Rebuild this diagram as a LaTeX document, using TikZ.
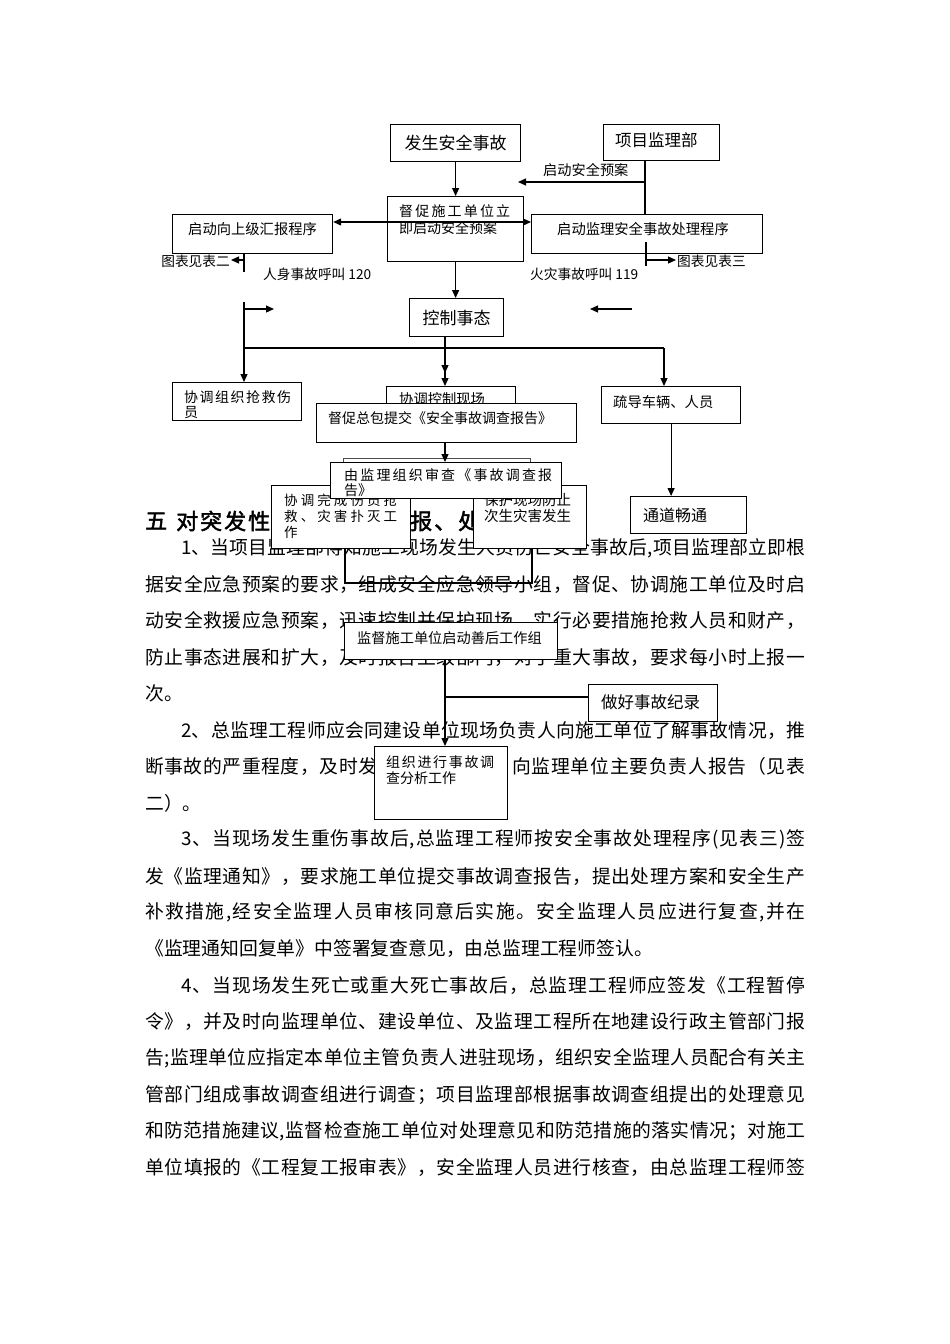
\documentclass[tikz,border=0pt]{standalone}
\usepackage{fontspec}
\setmainfont{Noto Sans CJK SC}
\newfontfamily\headfont{Noto Sans CJK SC}[FakeBold=2]
\usetikzlibrary{arrows.meta}
\def\spr#1{\ifx#1\relax\else#1\hfil\expandafter\spr\fi}
\newcommand\spreadto[2]{\hbox to #1{\spr#2\relax\unskip}}
\newcommand\fsz[1]{\fontsize{#1}{#1}\selectfont}
\tikzset{
  bx/.style={draw=black, line width=1.2pt, fill=white, inner sep=0pt, anchor=north west},
  ln/.style={line width=1.2pt},
  arr/.style={line width=1.2pt, -{Triangle[length=8pt,width=7pt]}},
  dbl/.style={line width=1.2pt, {Triangle[length=8pt,width=7pt]}-{Triangle[length=8pt,width=7pt]}},
  tx/.style={anchor=west, inner sep=0pt},
  body/.style={tx, font=\fsz{18.8}},
}
\newcommand\bx[5]{\node[bx, minimum width={#4-#2}, minimum height={#5-#3}] (#1) at (#2,#3) {};}
\begin{document}
\begin{tikzpicture}[x=1pt,y=-1pt]
\fill[white] (0,0) rectangle (950,1344);
\useasboundingbox (0,0) rectangle (950,1344);

% ---------- body text ----------
\node[tx, font=\headfont\fsz{22}] (hd1) at (145,521) {五};
\node[tx, font=\headfont\fsz{22}] (hd2) at (176,521) {\spreadto{94pt}{对突发性}};
\node[tx, font=\headfont\fsz{22}] (hd3) at (410,521) {\spreadto{70pt}{报、处}};
\node[body] (t0) at (181,548) {\spreadto{624pt}{1、当项目监理部得知施工现场发生人员伤亡安全事故后,项目监理部立即根}};
\node[body] (t1) at (145,584.5) {\spreadto{660pt}{据安全应急预案的要求，组成安全应急领导小组，督促、协调施工单位及时启}};
\node[body] (t2) at (145,620.9) {\spreadto{660pt}{动安全救援应急预案，迅速控制并保护现场，实行必要措施抢救人员和财产，}};
\node[body] (t3) at (145,657.4) {\spreadto{660pt}{防止事态进展和扩大，及时报告上级部门，对于重大事故，要求每小时上报一}};
\node[body] (t4) at (145,693.8) {次。};
\node[body] (t5) at (181,730.3) {\spreadto{624pt}{2、总监理工程师应会同建设单位现场负责人向施工单位了解事故情况，推}};
\node[body] (t6a) at (145,766.7) {\spreadto{232pt}{断事故的严重程度，及时发}};
\node[body] (t6b) at (512,766.7) {\spreadto{293pt}{向监理单位主要负责人报告（见表}};
\node[body] (t7) at (145,803.2) {二）。};
\node[body] (t8) at (181,839.6) {\spreadto{624pt}{3、当现场发生重伤事故后,总监理工程师按安全事故处理程序(见表三)签}};
\node[body] (t9) at (145,876.1) {\spreadto{660pt}{发《监理通知》，要求施工单位提交事故调查报告，提出处理方案和安全生产}};
\node[body] (t10) at (145,912.5) {\spreadto{660pt}{补救措施,经安全监理人员审核同意后实施。安全监理人员应进行复查,并在}};
\node[body] (t11) at (145,949) {《监理通知回复单》中签署复查意见，由总监理工程师签认。};
\node[body] (t12) at (181,985.4) {\spreadto{624pt}{4、当现场发生死亡或重大死亡事故后，总监理工程师应签发《工程暂停}};
\node[body] (t13) at (145,1021.9) {\spreadto{660pt}{令》，并及时向监理单位、建设单位、及监理工程所在地建设行政主管部门报}};
\node[body] (t14) at (145,1058.3) {\spreadto{660pt}{告;监理单位应指定本单位主管负责人进驻现场，组织安全监理人员配合有关主}};
\node[body] (t15) at (145,1094.8) {\spreadto{660pt}{管部门组成事故调查组进行调查；项目监理部根据事故调查组提出的处理意见}};
\node[body] (t16) at (145,1131.2) {\spreadto{660pt}{和防范措施建议,监督检查施工单位对处理意见和防范措施的落实情况；对施工}};
\node[body] (t17) at (145,1167.7) {\spreadto{660pt}{单位填报的《工程复工报审表》，安全监理人员进行核查，由总监理工程师签}};

% ---------- top part ----------
\bx{B1}{390}{124}{520}{161}
\node[tx, anchor=center, font=\fsz{17}] (T1) at (B1.center) {发生安全事故};
\bx{B2}{603}{124}{719}{160}
\node[tx, font=\fsz{16.5}] (T2) at (615,140) {项目监理部};
\bx{B3}{387}{196}{523}{261}
\node[tx, font=\fsz{14}] (T3a) at (399,211) {\spreadto{111pt}{督促施工单位立}};
\node[tx, font=\fsz{14}] (T3b) at (399,228) {即启动安全预案};
\bx{B4}{172}{214}{332}{253}
\node[tx, font=\fsz{14.3}] (T4) at (188,229) {启动向上级汇报程序};
\bx{B5}{531}{214}{762}{253}
\node[tx, font=\fsz{14.3}] (T5) at (557,229) {启动监理安全事故处理程序};

\node[tx, font=\fsz{14.2}] (L1) at (543,170) {启动安全预案};
\coordinate (v1) at (645,182);
\coordinate (v1e) at (518,182);
\draw[ln] (B2.south -| v1) -- (B5.north -| v1);
\draw[arr] (v1) -- (v1e);
\draw[arr] (B1.south) -- (B3.north);
\coordinate (hy) at (0,222);
\draw[dbl] (B4.east |- hy) -- (B5.west |- hy);

\coordinate (lv1) at (244,272);
\coordinate (la) at (244,260);
\coordinate (lat) at (231,260);
\draw[ln] (B4.south -| lv1) -- (lv1);
\draw[arr] (la) -- (lat);
\node[tx, anchor=east, font=\fsz{13.7}] (L2) at (230,261) {图表见表二};

\coordinate (rv0) at (646,242);
\coordinate (rv1) at (646,266);
\coordinate (ra) at (646,260);
\coordinate (rat) at (676,260);
\draw[ln] (rv0) -- (rv1);
\draw[arr] (ra) -- (rat);
\node[tx, font=\fsz{13.7}] (L3) at (677,261) {图表见表三};

\node[tx, font=\fsz{13.7}] (L4) at (263,274) {人身事故呼叫 120};
\node[tx, font=\fsz{13.7}] (L5) at (530,274) {火灾事故呼叫 119};

\bx{B6}{409}{298}{503}{336}
\node[tx, anchor=center, font=\fsz{17}] (T6) at (B6.center) {控制事态};
\draw[arr] (B3.south) -- (B3.south |- B6.north);

% ---------- middle ----------
\bx{B7}{172}{382}{301}{420}
\node[tx, font=\fsz{14}] (T7a) at (184,397) {\spreadto{107pt}{协调组织抢救伤}};
\node[tx, font=\fsz{14}] (T7b) at (184,413) {员};
\bx{B8}{386}{386}{515}{436}
\node[tx, font=\fsz{14.3}] (T8) at (399,399) {协调控制现场};
\bx{B9}{601}{386}{740}{423}
\node[tx, font=\fsz{14.3}] (T9) at (613,402) {疏导车辆、人员};
\bx{B10}{316}{403}{576}{442}
\node[tx, font=\fsz{14}] (T10) at (328,418) {督促总包提交《安全事故调查报告》};

\coordinate (lb0) at (244,302);
\coordinate (sa0) at (244,309);
\coordinate (sa1) at (274,309);
\coordinate (sb0) at (632,309);
\coordinate (sb1) at (590,309);
\coordinate (br0) at (244,348);
\coordinate (br1) at (664,348);
\coordinate (cx) at (445,336);
\coordinate (cxa) at (445,373);
\coordinate (cxb) at (445,348);
\draw[arr] (lb0) -- (lb0 |- B7.north);
\draw[arr] (sa0) -- (sa1);
\draw[arr] (sb0) -- (sb1);
\draw[ln] (br0) -- (br1);
\draw[arr] (cx) -- (cxa);
\draw[arr] (cxb) -- (cxb |- B8.north);
\draw[arr] (br1) -- (br1 |- B9.north);

\bx{B11}{630}{496}{746}{533}
\node[tx, font=\fsz{16}] (T11) at (643,515) {通道畅通};
\draw[arr] (B9.south) -- (B9.south |- B11.north);

\node[bx, draw=black!70, minimum width=187, minimum height=22] (H) at (343,458) {};
\bx{B13}{271}{485}{410}{548}
\node[tx, font=\fsz{13.5}] (T13a) at (284,500) {\spreadto{113pt}{协调完成伤员抢}};
\node[tx, font=\fsz{13.5}] (T13b) at (284,516) {\spreadto{113pt}{救、灾害扑灭工}};
\node[tx, font=\fsz{13.5}] (T13c) at (284,532) {作};
\bx{B14}{473}{485}{586}{548}
\node[tx, font=\fsz{14.5}] (T14a) at (484,500) {保护现场防止};
\node[tx, font=\fsz{14.5}] (T14b) at (484,516) {次生灾害发生};
\bx{B12}{330}{462}{561}{498}
\node[tx, font=\fsz{14}] (T12a) at (344,475) {\spreadto{208pt}{由监理组织审查《事故调查报}};
\node[tx, font=\fsz{14}] (T12b) at (344,490) {告》};
\draw[arr] (B10.south -| cx) -- (cx |- B12.north);

\coordinate (k1) at (345,583);
\coordinate (k2) at (532,583);
\draw[ln] (B13.south -| k1) -- (k1) -- (k2) -- (B14.south -| k2);

% ---------- lower ----------
\bx{B15}{344}{622}{557}{659}
\node[tx, font=\fsz{14.2}] (T15) at (357,638) {监督施工单位启动善后工作组};
\bx{B16}{588}{684}{717}{721}
\node[tx, font=\fsz{16.5}] (T16) at (601,702) {做好事故纪录};
\bx{B17}{374}{746}{507}{819}
\node[tx, font=\fsz{14}] (T17a) at (386,762) {\spreadto{108pt}{组织进行事故调}};
\node[tx, font=\fsz{14}] (T17b) at (386,778) {查分析工作};
\draw[arr] (B15.south -| cx) -- (cx |- B17.north);
\coordinate (m1) at (445,697);
\draw[ln] (m1) -- (m1 -| B16.west);
\end{tikzpicture}
\end{document}
